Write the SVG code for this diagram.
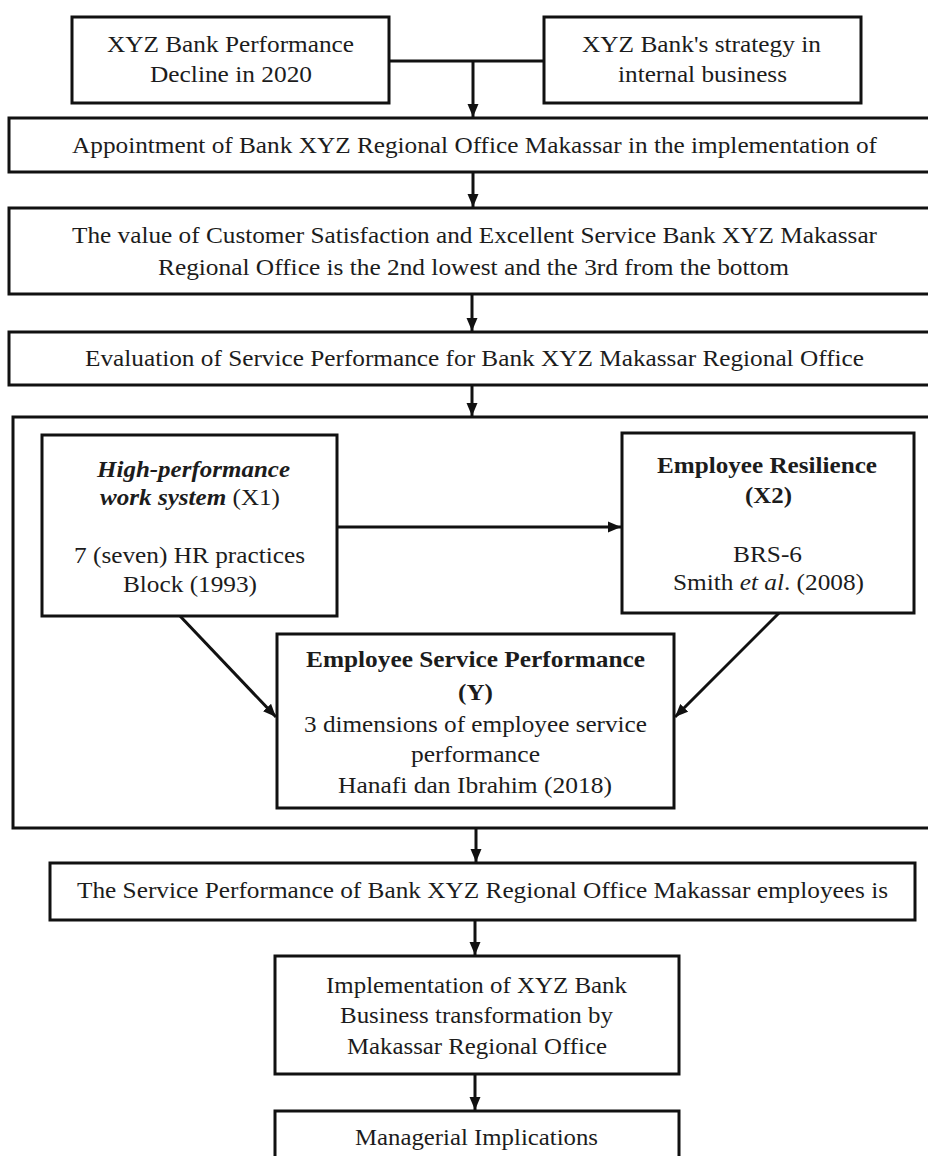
<svg xmlns="http://www.w3.org/2000/svg" width="928" height="1156" viewBox="0 0 928 1156">
<defs>
<style>
.box{fill:#fff;stroke:#111;stroke-width:3}
.frame{fill:none;stroke:#111;stroke-width:3}
.con{fill:none;stroke:#111;stroke-width:3}
text{font-family:"Liberation Serif","Times New Roman",serif;font-size:24px;fill:#1c1c1c;text-anchor:middle}
.b{font-weight:bold}
.bi{font-weight:bold;font-style:italic}
.i{font-style:italic}
</style>
<marker id="ah" markerUnits="userSpaceOnUse" markerWidth="14" markerHeight="12" refX="13" refY="6" orient="auto" viewBox="0 0 14 12">
<path d="M0,0.5 L13,6 L0,11.5 z" fill="#111"/>
</marker>
</defs>
<rect width="928" height="1156" fill="#fff"/>

<g id="n-framework">
<rect class="frame" x="13" y="417" width="926" height="411"/>
</g>

<g id="connectors">
<path class="con" d="M389,61 H544"/>
<path class="con" d="M473,61 V117" marker-end="url(#ah)"/>
<path class="con" d="M473,172 V207" marker-end="url(#ah)"/>
<path class="con" d="M472,294 V331" marker-end="url(#ah)"/>
<path class="con" d="M472,385 V416" marker-end="url(#ah)"/>
<path class="con" d="M337,527 H621" marker-end="url(#ah)"/>
<path class="con" d="M180,616 L276,717" marker-end="url(#ah)"/>
<path class="con" d="M779,613 L675,717" marker-end="url(#ah)"/>
<path class="con" d="M476,828 V862" marker-end="url(#ah)"/>
<path class="con" d="M475,920 V955" marker-end="url(#ah)"/>
<path class="con" d="M475,1074 V1110" marker-end="url(#ah)"/>
</g>

<g id="n-decline">
<rect class="box" x="72" y="17" width="317" height="86"/>
<text x="230.5" y="52" textLength="247" lengthAdjust="spacingAndGlyphs">XYZ Bank Performance</text>
<text x="231" y="82" textLength="162" lengthAdjust="spacingAndGlyphs">Decline in 2020</text>
</g>

<g id="n-strategy">
<rect class="box" x="544" y="17" width="317" height="86"/>
<text x="701.5" y="52" textLength="239" lengthAdjust="spacingAndGlyphs">XYZ Bank's strategy in</text>
<text x="702.5" y="82" textLength="169" lengthAdjust="spacingAndGlyphs">internal business</text>
</g>

<g id="n-appointment">
<rect class="box" x="9" y="118" width="930" height="54"/>
<text x="474.5" y="153" textLength="805" lengthAdjust="spacingAndGlyphs">Appointment of Bank XYZ Regional Office Makassar in the implementation of</text>
</g>

<g id="n-value">
<rect class="box" x="9" y="208" width="930" height="86"/>
<text x="474.5" y="243" textLength="805" lengthAdjust="spacingAndGlyphs">The value of Customer Satisfaction and Excellent Service Bank XYZ Makassar</text>
<text x="473.5" y="275" textLength="631" lengthAdjust="spacingAndGlyphs">Regional Office is the 2nd lowest and the 3rd from the bottom</text>
</g>

<g id="n-evaluation">
<rect class="box" x="9" y="332" width="930" height="53"/>
<text x="474.5" y="366" textLength="779" lengthAdjust="spacingAndGlyphs">Evaluation of Service Performance for Bank XYZ Makassar Regional Office</text>
</g>

<g id="n-hpws">
<rect class="box" x="42" y="435" width="295" height="181"/>
<text class="bi" x="193.5" y="477" textLength="193" lengthAdjust="spacingAndGlyphs">High-performance</text>
<text x="190" y="505" textLength="180" lengthAdjust="spacingAndGlyphs"><tspan class="bi">work system</tspan> (X1)</text>
<text x="189.5" y="563" textLength="231" lengthAdjust="spacingAndGlyphs">7 (seven) HR practices</text>
<text x="190" y="592" textLength="134" lengthAdjust="spacingAndGlyphs">Block (1993)</text>
</g>

<g id="n-resilience">
<rect class="box" x="622" y="433" width="292" height="180"/>
<text class="b" x="767" y="473" textLength="220" lengthAdjust="spacingAndGlyphs">Employee Resilience</text>
<text class="b" x="768.5" y="503" textLength="47" lengthAdjust="spacingAndGlyphs">(X2)</text>
<text x="767.5" y="562" textLength="69" lengthAdjust="spacingAndGlyphs">BRS-6</text>
<text x="768.5" y="590" textLength="191" lengthAdjust="spacingAndGlyphs">Smith <tspan class="i">et al</tspan>. (2008)</text>
</g>

<g id="n-performance">
<rect class="box" x="277" y="634" width="397" height="174"/>
<text class="b" x="475.5" y="667" textLength="339" lengthAdjust="spacingAndGlyphs">Employee Service Performance</text>
<text class="b" x="475.5" y="700" textLength="35" lengthAdjust="spacingAndGlyphs">(Y)</text>
<text x="475.5" y="732" textLength="343" lengthAdjust="spacingAndGlyphs">3 dimensions of employee service</text>
<text x="475.5" y="762" textLength="129" lengthAdjust="spacingAndGlyphs">performance</text>
<text x="475" y="793" textLength="274" lengthAdjust="spacingAndGlyphs">Hanafi dan Ibrahim (2018)</text>
</g>

<g id="n-service">
<rect class="box" x="50" y="863" width="865" height="57"/>
<text x="482.5" y="898" textLength="811" lengthAdjust="spacingAndGlyphs">The Service Performance of Bank XYZ Regional Office Makassar employees is</text>
</g>

<g id="n-implementation">
<rect class="box" x="275" y="956" width="404" height="118"/>
<text x="476.5" y="993" textLength="301" lengthAdjust="spacingAndGlyphs">Implementation of XYZ Bank</text>
<text x="476.5" y="1023" textLength="273" lengthAdjust="spacingAndGlyphs">Business transformation by</text>
<text x="477" y="1054" textLength="260" lengthAdjust="spacingAndGlyphs">Makassar Regional Office</text>
</g>

<g id="n-managerial">
<rect class="box" x="275" y="1111" width="404" height="60"/>
<text x="476.5" y="1145" textLength="243" lengthAdjust="spacingAndGlyphs">Managerial Implications</text>
</g>
</svg>
